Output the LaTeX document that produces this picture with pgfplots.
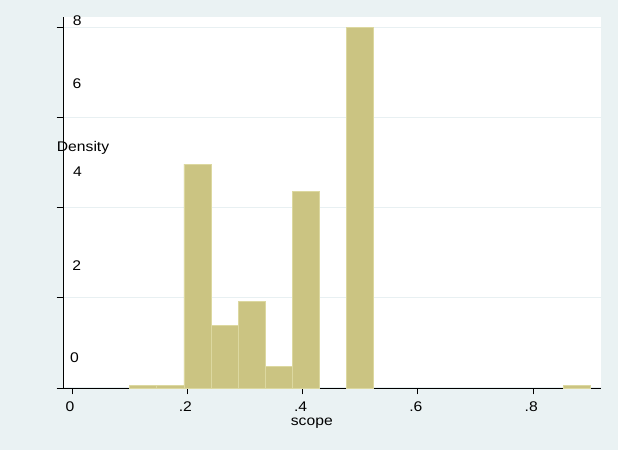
\documentclass[border=0pt]{standalone}
\usepackage{pgfplots}
\pgfplotsset{compat=1.18}
\usepackage{fontspec}
\setmainfont{Liberation Sans}[FakeStretch=1.12]

\definecolor{bgc}{RGB}{234,242,243}
\definecolor{gridc}{RGB}{232,240,242}
\definecolor{barc}{RGB}{203,196,130}
\definecolor{barline}{RGB}{220,216,160}
\newcommand{\fs}{\fontsize{14bp}{16bp}\selectfont}

% grid under the bars, axis lines over them
\pgfplotsset{layers/gridbelow/.define layer set={axis background,axis grid,main,axis ticks,axis lines,axis tick labels,axis descriptions,axis foreground}{}}

\begin{document}
\begin{tikzpicture}
\fill[bgc] (0,0) rectangle (618bp,450bp);
\begin{axis}[
    set layers=gridbelow,
    at={(63bp,62bp)}, anchor=south west,
    width=538bp, height=371bp, scale only axis,
    xmin=-0.0156, xmax=0.9176,
    ymin=0, ymax=8.24,
    axis x line*=bottom, axis y line*=left,
    axis line style={black, line width=0.9bp},
    tick align=outside, major tick length=6.5bp,
    tick style={black, line width=0.9bp},
    xtick={0,0.2,0.4,0.6,0.8}, xticklabels={0,.2,.4,.6,.8},
    ytick={0,2,4,6,8}, yticklabels={},
    ymajorgrids, grid style={gridc, line width=1bp},
    axis background/.style={fill=white},
    xticklabel style={font=\fs, xshift=-2bp, yshift=-4bp},
    clip=false,
]
% density histogram of scope, bins of width 0.8/17 from 0.1
\addplot[ybar interval, fill=barc, draw=barline, line width=0.8bp]
    coordinates {(0.1,0.066) (0.14706,0.066) (0.19412,0)};
\addplot[ybar interval, fill=barc, draw=barline, line width=0.8bp]
    coordinates {(0.19412,4.97) (0.24118,1.39) (0.28824,1.92) (0.33529,0.47) (0.38235,4.37) (0.42941,0)};
\addplot[ybar interval, fill=barc, draw=barline, line width=0.8bp]
    coordinates {(0.47647,8.0) (0.52353,0)};
\addplot[ybar interval, fill=barc, draw=barline, line width=0.8bp]
    coordinates {(0.85294,0.066) (0.9,0)};

% y tick labels sit off their ticks in the original
\node[font=\fs, inner sep=0] at (axis cs:0.0090,8.15) {8};
\node[font=\fs, inner sep=0] at (axis cs:0.0087,6.76) {6};
\node[font=\fs, inner sep=0] at (axis cs:0.0095,4.80) {4};
\node[font=\fs, inner sep=0] at (axis cs:0.0083,2.72) {2};
\node[font=\fs, inner sep=0] at (axis cs:0.0043,0.68) {0};

\node[font=\fs, inner sep=0, anchor=west] at (axis cs:-0.0265,5.34) {Density};
\node[font=\fs, inner sep=0] at (axis cs:0.416,-0.79) {scope};
\end{axis}
\end{tikzpicture}
\end{document}
